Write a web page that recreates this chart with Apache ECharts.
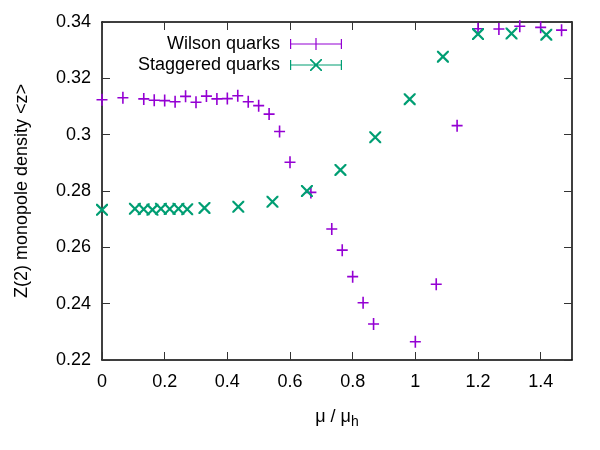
<!DOCTYPE html>
<html>
<head>
<meta charset="utf-8">
<script src="https://cdn.jsdelivr.net/npm/echarts@6/dist/echarts.min.js"></script>
<style>
html,body{margin:0;padding:0;background:#fff;}
#main{width:600px;height:450px;}
</style>
</head>
<body>
<div id="main"></div>
<script>
// Wilson quarks
var muWilson = [0, 0.0667, 0.1333, 0.1667, 0.2, 0.2333, 0.2667, 0.3, 0.3333, 0.3667, 0.4, 0.4333, 0.4667, 0.5, 0.5333, 0.5667,
    0.6, 0.6667, 0.7333, 0.7667, 0.8, 0.8333, 0.8667, 1.0, 1.0667, 1.1333, 1.2, 1.2667, 1.3333, 1.4, 1.4667];
var zWilson = [0.3124, 0.3131, 0.3127, 0.3122, 0.3121, 0.3117, 0.3136, 0.3115, 0.3137, 0.3127, 0.3128, 0.3138, 0.3117, 0.3103, 0.3073, 0.3011,
    0.2902, 0.2795, 0.2665, 0.2590, 0.2496, 0.2403, 0.2328, 0.2265, 0.2469, 0.3032, 0.3376, 0.3375, 0.3385, 0.3381, 0.3371];
// Staggered quarks
var muStag = [0, 0.105, 0.133, 0.161, 0.188, 0.216, 0.244, 0.272, 0.327, 0.435, 0.544, 0.654, 0.761, 0.872, 0.982, 1.088, 1.2, 1.307, 1.418];
var zStag = [0.2733, 0.2737, 0.2735, 0.2733, 0.2737, 0.2736, 0.2737, 0.2735, 0.2740, 0.2744, 0.2762, 0.2800, 0.2875, 0.2991, 0.3126, 0.3277, 0.3357, 0.3359, 0.3355];

var yTicks = {min: 0.22, max: 0.34, interval: 0.02};
var xTicks = {min: 0, max: 1.5, interval: 0.2};

function pairs(xs, ys) {
    var out = [];
    for (var i = 0; i < xs.length; i++) {
        out.push([xs[i], ys[i]]);
    }
    return out;
}

var font = 'Liberation Sans, Arial, sans-serif';
var plusPath = 'path://M0,5.2H11V6.8H0Z M4.7,0H6.3V12H4.7Z';
var crossPath = 'path://M0,0L1.3,0L10,8.7L10,10L8.7,10L0,1.3Z M8.7,0L10,0L10,1.3L1.3,10L0,10L0,8.7Z';
var legPlus = 'path://M0,5.4H52V6.6H0Z M0,1H1.2V11H0Z M50.8,1H52V11H50.8Z M25.4,0H26.6V12H25.4Z';
var legCross = 'path://M0,5.4H52V6.6H0Z M0,1H1.2V11H0Z M50.8,1H52V11H50.8Z M20,0L21.2,0L32,10.8L32,12L30.8,12L20,1.2Z M30.8,0L32,0L32,1.2L21.2,12L20,12L20,10.8Z';

var frameLine = {show: true, onZero: false, lineStyle: {color: '#000', width: 1.5}};
var ticksIn = {show: true, inside: true, length: 8, lineStyle: {color: '#333', width: 1}};

var option = {
    backgroundColor: '#fff',
    animation: false,
    grid: {left: 102, right: 28, top: 22, bottom: 90},
    legend: {
        orient: 'vertical',
        right: 253,
        top: 30,
        align: 'right',
        itemWidth: 52,
        itemHeight: 12,
        itemGap: 3,
        textStyle: {fontFamily: font, fontSize: 18, color: '#000', lineHeight: 18, padding: [0, 5, 0, 0]},
        data: [
            {name: 'Wilson quarks', icon: legPlus},
            {name: 'Staggered quarks', icon: legCross}
        ]
    },
    xAxis: [{
        type: 'value',
        min: xTicks.min, max: xTicks.max, interval: xTicks.interval,
        name: '{a|μ / μ}{b|h}',
        nameLocation: 'middle',
        nameGap: 45,
        nameTextStyle: {
            rich: {
                a: {fontFamily: font, fontSize: 18, color: '#000'},
                b: {fontFamily: font, fontSize: 14, color: '#000', padding: [10, 0, 0, 0]}
            }
        },
        axisLine: frameLine,
        axisTick: ticksIn,
        axisLabel: {fontFamily: font, fontSize: 18, color: '#000', margin: 13, showMaxLabel: false},
        splitLine: {show: false}
    }, {
        type: 'value',
        position: 'top',
        min: xTicks.min, max: xTicks.max, interval: xTicks.interval,
        axisLine: frameLine,
        axisTick: ticksIn,
        axisLabel: {show: false},
        splitLine: {show: false}
    }],
    yAxis: [{
        type: 'value',
        min: yTicks.min, max: yTicks.max, interval: yTicks.interval,
        name: 'Z(2) monopole density <z>',
        nameLocation: 'middle',
        nameGap: 71,
        nameTextStyle: {fontFamily: font, fontSize: 18, color: '#000'},
        axisLine: frameLine,
        axisTick: ticksIn,
        axisLabel: {fontFamily: font, fontSize: 18, color: '#000', margin: 11},
        splitLine: {show: false}
    }, {
        type: 'value',
        position: 'right',
        min: yTicks.min, max: yTicks.max, interval: yTicks.interval,
        axisLine: frameLine,
        axisTick: ticksIn,
        axisLabel: {show: false},
        splitLine: {show: false}
    }],
    series: [
        {
            name: 'Wilson quarks',
            type: 'scatter',
            symbol: plusPath,
            symbolSize: [11, 12],
            itemStyle: {color: '#9400d3', opacity: 1},
            data: pairs(muWilson, zWilson)
        },
        {
            name: 'Staggered quarks',
            type: 'scatter',
            symbol: crossPath,
            symbolSize: [12, 12],
            itemStyle: {color: '#009e73', opacity: 1},
            data: pairs(muStag, zStag)
        }
    ]
};

var chart = echarts.init(document.getElementById('main'), null, {renderer: 'canvas'});
chart.setOption(option);
</script>
</body>
</html>
